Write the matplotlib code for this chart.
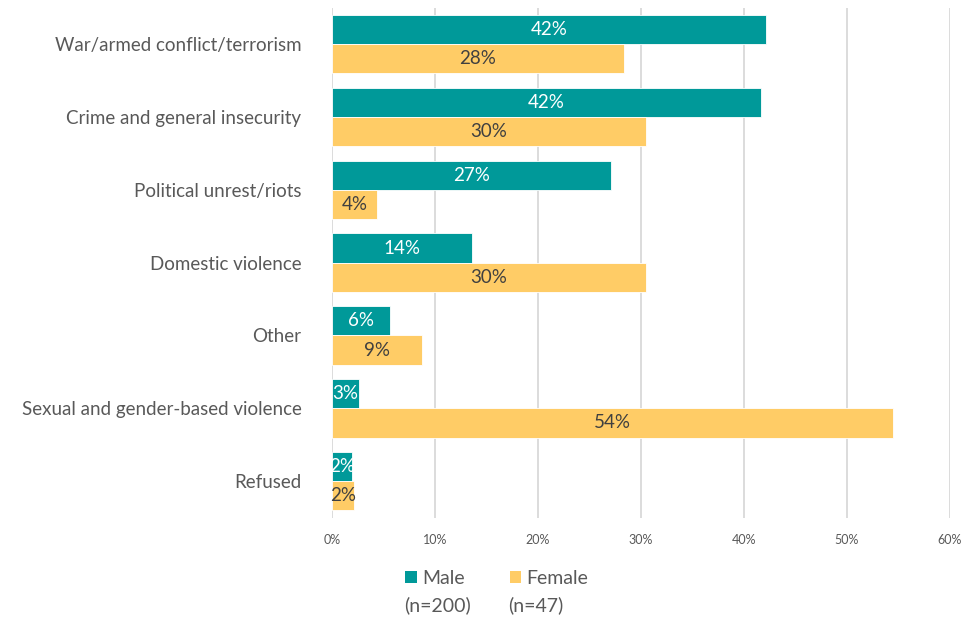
import numpy as np
import matplotlib.pyplot as plt
from matplotlib import ticker
from matplotlib.patches import Patch

plt.rcParams['font.family'] = ['Lato', 'DejaVu Sans']

# data (percent)
categories = ['War/armed conflict/terrorism', 'Crime and general insecurity',
              'Political unrest/riots', 'Domestic violence', 'Other',
              'Sexual and gender-based violence', 'Refused']
male = [42.1, 41.6, 27.1, 13.6, 5.6, 2.6, 1.9]
female = [28.3, 30.5, 4.4, 30.5, 8.7, 54.5, 2.1]
series_names = ['Male', 'Female']
sample_sizes = ['(n=200)', '(n=47)']

TEAL = '#009999'
GOLD = '#FFCC66'
GREY = '#595959'

fig = plt.figure(figsize=(9.78, 6.17), dpi=100)
ax = fig.add_axes([0.3395, 0.161, 0.6319, 0.8267])

y = np.arange(len(categories))
h = 0.4
bm = ax.barh(y - h / 2, male, height=h, color=TEAL, edgecolor='white', linewidth=0.6, zorder=3)
bf = ax.barh(y + h / 2, female, height=h, color=GOLD, edgecolor='white', linewidth=0.6, zorder=3)

for bars, vals, col in [(bm, male, 'white'), (bf, female, '#404040')]:
    ax.bar_label(bars, labels=[f'{round(v):.0f}%' for v in vals], label_type='center',
                 color=col, fontsize=13.5, zorder=4)

ax.set_xlim(0, 60)
ax.set_ylim(len(categories) - 0.5, -0.5)
ax.xaxis.set_major_locator(ticker.MultipleLocator(10))
ax.xaxis.set_major_formatter(ticker.FuncFormatter(lambda v, p: f'{v:.0f}%'))
ax.grid(axis='x', color='#d9d9d9', linewidth=1.3, zorder=0)
ax.set_yticks(y)
ax.set_yticklabels(categories, fontsize=13.5, color=GREY)
ax.tick_params(axis='y', length=0, pad=22)
ax.tick_params(axis='x', length=0, labelsize=9, colors=GREY, pad=12)
for s in ax.spines.values():
    s.set_visible(False)

# legend: square + name on first line, sample size underneath from the square's left edge
handles = [Patch(facecolor=TEAL), Patch(facecolor=GOLD)]
leg = fig.legend(handles, series_names, loc='center', bbox_to_anchor=(0.508, 0.063),
                 ncol=2, frameon=False, fontsize=14, labelcolor=GREY,
                 handlelength=0.6, handleheight=0.6, handletextpad=0.28, columnspacing=2.3,
                 borderaxespad=0, borderpad=0)
fig.canvas.draw()
inv = fig.transFigure.inverted()
for hnd, txt, n in zip(leg.legend_handles, leg.get_texts(), sample_sizes):
    hb = hnd.get_window_extent()
    tb = txt.get_window_extent()
    x0, yc = inv.transform((hb.x0, (tb.y0 + tb.y1) / 2 - 27))
    fig.text(x0 - 0.001, yc, n, fontsize=14, color=GREY, va='center', ha='left')

fig.savefig('out.png', dpi=100, facecolor='white')
